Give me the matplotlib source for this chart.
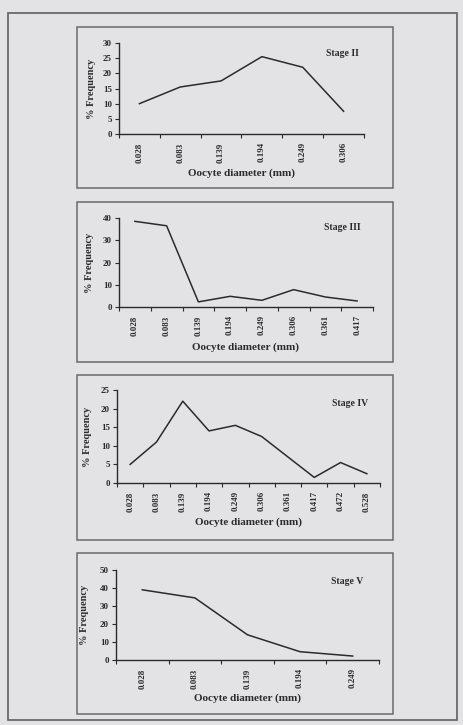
"""Oocyte diameter frequency distributions for maturity stages II-V."""

import matplotlib
matplotlib.use("Agg")
import matplotlib.pyplot as plt
from matplotlib.patches import Rectangle
from matplotlib.ticker import FixedLocator

W, H = 464, 725
PAGE = "#e3e3e6"
INK = "#2b2b2b"
FRAME = "#6a6a6a"

# % frequency by oocyte diameter class (mm)
STAGE_II_X = ["0.028", "0.083", "0.139", "0.194", "0.249", "0.306"]
STAGE_II = [10, 15.5, 17.5, 25.5, 22, 7.5]

STAGE_III_X = ["0.028", "0.083", "0.139", "0.194", "0.249", "0.306", "0.361", "0.417"]
STAGE_III = [38.5, 36.5, 2.3, 4.8, 3, 7.8, 4.5, 2.7]

STAGE_IV_X = ["0.028", "0.083", "0.139", "0.194", "0.249", "0.306",
              "0.361", "0.417", "0.472", "0.528"]
STAGE_IV = [5, 11, 22, 14, 15.5, 12.5, 7, 1.5, 5.5, 2.5]

STAGE_V_X = ["0.028", "0.083", "0.139", "0.194", "0.249"]
STAGE_V = [39, 34.5, 14, 4.6, 2.2]

# panel layout in pixels: box (top, bottom), axes (left, right, top, bottom),
# y ticks, stage label xy, x label y, y label x
PANELS = [
    ("Stage II", STAGE_II_X, STAGE_II, (27, 188), (119, 364, 43, 134),
     range(0, 31, 5), (342, 53), 173, 92),
    ("Stage III", STAGE_III_X, STAGE_III, (202, 362), (119, 373, 218, 307),
     range(0, 41, 10), (342, 228), 347, 89),
    ("Stage IV", STAGE_IV_X, STAGE_IV, (375, 540), (117, 380, 390, 483),
     range(0, 26, 5), (350, 403), 522, 88),
    ("Stage V", STAGE_V_X, STAGE_V, (553, 714), (116, 379, 570, 660),
     range(0, 51, 10), (347, 582), 698, 85),
]

SERIF = ["Liberation Serif", "DejaVu Serif"]


def fx(px):
    return px / W


def fy(py):
    return 1 - py / H


fig = plt.figure(figsize=(W / 100, H / 100), dpi=100)
fig.patch.set_facecolor(PAGE)

# outer page frame
fig.add_artist(Rectangle((fx(8), fy(720)), fx(457) - fx(8), fy(13) - fy(720),
                         transform=fig.transFigure, fill=False,
                         edgecolor=FRAME, linewidth=1.3))

for name, cats, vals, (btop, bbot), (l, r, t, b), yticks, (sx, sy), xly, ylx in PANELS:
    fig.add_artist(Rectangle((fx(77), fy(bbot)), fx(393) - fx(77), fy(btop) - fy(bbot),
                             transform=fig.transFigure, fill=False,
                             edgecolor=FRAME, linewidth=1.1))

    ax = fig.add_axes([fx(l), fy(b), fx(r) - fx(l), fy(t) - fy(b)])
    ax.set_facecolor("none")
    x = list(range(len(cats)))
    ax.plot(x, vals, color=INK, linewidth=1.1)

    ax.set_xlim(-0.5, len(cats) - 0.5)
    ax.set_ylim(yticks[0], yticks[-1])
    for side in ("top", "right"):
        ax.spines[side].set_visible(False)
    for side in ("left", "bottom"):
        ax.spines[side].set_color(INK)
        ax.spines[side].set_linewidth(1.0)

    ax.set_xticks(x)
    ax.set_xticklabels(cats, rotation=90, fontsize=6.5, family=SERIF,
                       fontweight="bold", color=INK)
    ax.tick_params(axis="x", which="major", length=0, pad=6)
    ax.xaxis.set_minor_locator(FixedLocator([i - 0.5 for i in range(len(cats) + 1)]))
    ax.tick_params(axis="x", which="minor", length=3, width=0.8, color=INK)

    ax.set_yticks(list(yticks))
    ax.set_yticklabels([str(v) for v in yticks], fontsize=6.5, family=SERIF,
                       fontweight="bold", color=INK)
    ax.tick_params(axis="y", length=3, width=0.8, color=INK, pad=2)

    fig.text(fx(sx), fy(sy), name, ha="center", va="center", fontsize=7,
             family=SERIF, fontweight="bold", color=INK)
    fig.text(fx((l + r) / 2), fy(xly), "Oocyte diameter (mm)", ha="center",
             va="center", fontsize=8, family=SERIF, fontweight="bold", color=INK)
    fig.text(fx(ylx), fy((t + b) / 2), "% Frequency", ha="center", va="center",
             rotation=90, fontsize=7.5, family=SERIF, fontweight="bold", color=INK)

fig.savefig("out.png", dpi=100, facecolor=fig.get_facecolor())
